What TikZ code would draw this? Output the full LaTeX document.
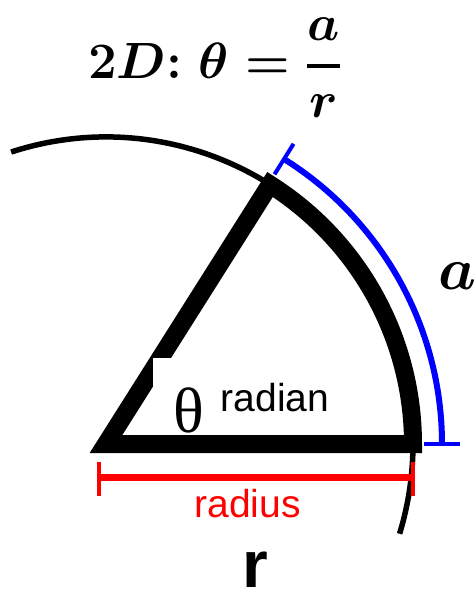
\RequirePackage{fix-cm}
\documentclass[tikz,border=0pt]{standalone}
\usepackage{fontspec}
\usepackage{tikz}
\newfontfamily\sansArial{Liberation Sans}
\newfontfamily\serifTimes{Liberation Serif}

\begin{document}
\begin{tikzpicture}[x=1pt,y=1pt]

% Colori
\definecolor{colRaggio}{HTML}{FF0000}
\definecolor{colArco}{HTML}{0000FF}

% Raggio del cerchio e dell'arco blu
\def\R{307}
\def\Ra{336}

% Area del disegno
\useasboundingbox (-106,-156) rectangle (370,444);

% Titolo
\node[anchor=base west, inner sep=0pt, font=\fontsize{51}{58}\selectfont\boldmath] (titolo) at (-18,365) {$2D{:}\;\theta=\displaystyle{a\above 4pt r}$};

% Cerchio sottile
\draw[line width=5.5pt] (108:\R) arc[start angle=108,end angle=-17,radius=\R];

% Settore
\draw[line width=18pt, line join=miter] (0,0) -- (57.7:\R) arc[start angle=57.7,end angle=0,radius=\R] -- cycle;

% Tacca bianca sul lato
\fill[white] (47,58) rectangle (69,86);

% Arco a
\draw[colArco, line width=6pt] (58:\Ra) arc[start angle=58,end angle=0,radius=\Ra];
\draw[colArco, line width=4pt] (58:318) -- (58:354);
\draw[colArco, line width=4pt] (0:318) -- (0:354);

% Raggio
\draw[colRaggio, line width=7pt] (-7,-33) -- (307,-33);
\draw[colRaggio, line width=4pt] (-7,-18) -- (-7,-52);
\draw[colRaggio, line width=4pt] (307,-18) -- (307,-52);

% Etichette
\node[anchor=base, inner sep=0pt, font=\serifTimes\fontsize{64}{70}\selectfont] (theta) at (83,12) {θ};
\node[anchor=base west, inner sep=0pt, font=\sansArial\fontsize{39}{44}\selectfont] (radian) at (114.5,33) {radian};
\node[anchor=base, inner sep=0pt, text=colRaggio, font=\sansArial\fontsize{39}{44}\selectfont] (radius) at (141.5,-73) {radius};
\node[anchor=base west, inner sep=0pt, font=\fontsize{60}{66}\selectfont\boldmath] (a) at (332,154) {$a$};
\node[anchor=base, inner sep=0pt, font=\sansArial\bfseries\fontsize{66}{72}\selectfont] (r) at (149,-143) {r};

\end{tikzpicture}
\end{document}
